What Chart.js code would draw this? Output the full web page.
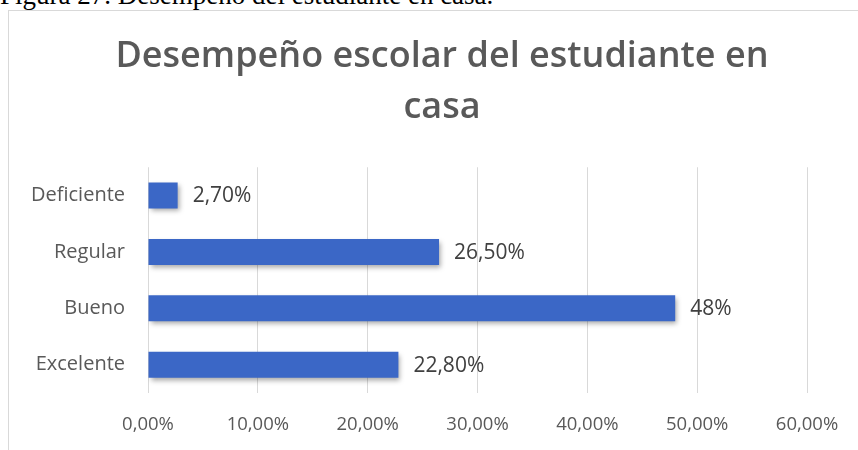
<!DOCTYPE html>
<html>
<head>
<meta charset="utf-8">
<script src="https://cdn.jsdelivr.net/npm/chart.js@4/dist/chart.umd.min.js"></script>
<style>
  html, body { margin: 0; padding: 0; background: #fff; overflow: hidden; }
  #wrap { position: relative; width: 858px; height: 450px; overflow: hidden; }
  #caption { position: absolute; left: 0; top: -18px; font: 27px/1 "Liberation Serif", serif; color: #000; white-space: nowrap; }
  #frame { position: absolute; left: 8px; top: 10px; width: 900px; height: 460px; border: 1px solid #d9d9d9; }
  #c { position: absolute; left: 0; top: 0; }
</style>
</head>
<body>
<div id="wrap">
  <div id="caption">Figura 27. Desempeño del estudiante en casa.</div>
  <div id="frame"></div>
  <canvas id="c" width="885" height="450"></canvas>
</div>
<script>
const categories = ['Deficiente', 'Regular', 'Bueno', 'Excelente'];
const values = [2.7, 26.5, 48, 22.8];
const axisMax = 60;
const axisStep = 10;

const textColor = '#595959';

function fmtTick(v) {
  return v.toFixed(2).replace('.', ',') + '%';
}
function fmtLabel(v) {
  return Number.isInteger(v) ? v + '%' : v.toFixed(2).replace('.', ',') + '%';
}

// excel-like bar gradient, built per bar from its pixel position
function barFill(context) {
  const chart = context.chart;
  if (context.dataIndex === undefined) return '#3b67c6';
  const el = chart.getDatasetMeta(0).data[context.dataIndex];
  if (!el || !el.height) return '#3b67c6';
  const top = el.y - el.height / 2;
  const g = chart.ctx.createLinearGradient(0, top, 0, top + el.height);
  g.addColorStop(0, '#4d77cf');
  g.addColorStop(0.5, '#3c68c8');
  g.addColorStop(1, '#2f5bb8');
  return g;
}

const shadowPlugin = {
  id: 'barShadow',
  beforeDatasetsDraw(chart) {
    const ctx = chart.ctx;
    ctx.save();
    ctx.shadowColor = 'rgba(0,0,0,0.35)';
    ctx.shadowBlur = 5;
    ctx.shadowOffsetX = 2;
    ctx.shadowOffsetY = 3;
  },
  afterDatasetsDraw(chart) {
    chart.ctx.restore();
  }
};

// the title is centred on the whole frame, not only up to the plot's right edge
const titleSpan = {
  id: 'titleSpan',
  afterLayout(chart) {
    const t = chart.titleBlock;
    if (t) { t.left = 0; t.right = 884; }
  }
};

const valueLabels = {
  id: 'valueLabels',
  afterDatasetsDraw(chart) {
    const ctx = chart.ctx;
    const meta = chart.getDatasetMeta(0);
    ctx.save();
    ctx.font = '21px "Open Sans", sans-serif';
    ctx.fillStyle = '#404040';
    ctx.textAlign = 'left';
    ctx.textBaseline = 'middle';
    meta.data.forEach((bar, i) => {
      ctx.fillText(fmtLabel(values[i]), bar.x + 15, bar.y + 1);
    });
    ctx.restore();
  }
};

new Chart(document.getElementById('c'), {
  type: 'bar',
  data: {
    labels: categories,
    datasets: [{
      data: values,
      backgroundColor: barFill,
      borderWidth: 0,
      categoryPercentage: 1,
      barPercentage: 0.46
    }]
  },
  options: {
    indexAxis: 'y',
    responsive: false,
    animation: false,
    layout: { padding: { left: 0, right: 78, top: 0, bottom: 0 } },
    plugins: {
      legend: { display: false },
      tooltip: { enabled: false },
      title: {
        display: true,
        text: ['Desempeño escolar del estudiante en', 'casa'],
        color: textColor,
        font: { family: '"Open Sans", sans-serif', size: 36, weight: '600', lineHeight: 1.42 },
        padding: { top: 31, bottom: 34 }
      }
    },
    scales: {
      x: {
        min: 0,
        max: axisMax,
        ticks: {
          stepSize: axisStep,
          color: textColor,
          padding: 21,
          font: { family: '"Open Sans", sans-serif', size: 18.5 },
          callback: (v) => fmtTick(v)
        },
        grid: { color: '#d9d9d9', lineWidth: 1, drawTicks: false },
        border: { display: false },
        afterFit(scale) { scale.height = 57; }
      },
      y: {
        ticks: {
          color: textColor,
          padding: 23,
          font: { family: '"Open Sans", sans-serif', size: 20 }
        },
        grid: { display: false, drawTicks: false },
        border: { display: false },
        afterFit(scale) { scale.width = 148; }
      }
    }
  },
  plugins: [titleSpan, shadowPlugin, valueLabels]
});
</script>
</body>
</html>
